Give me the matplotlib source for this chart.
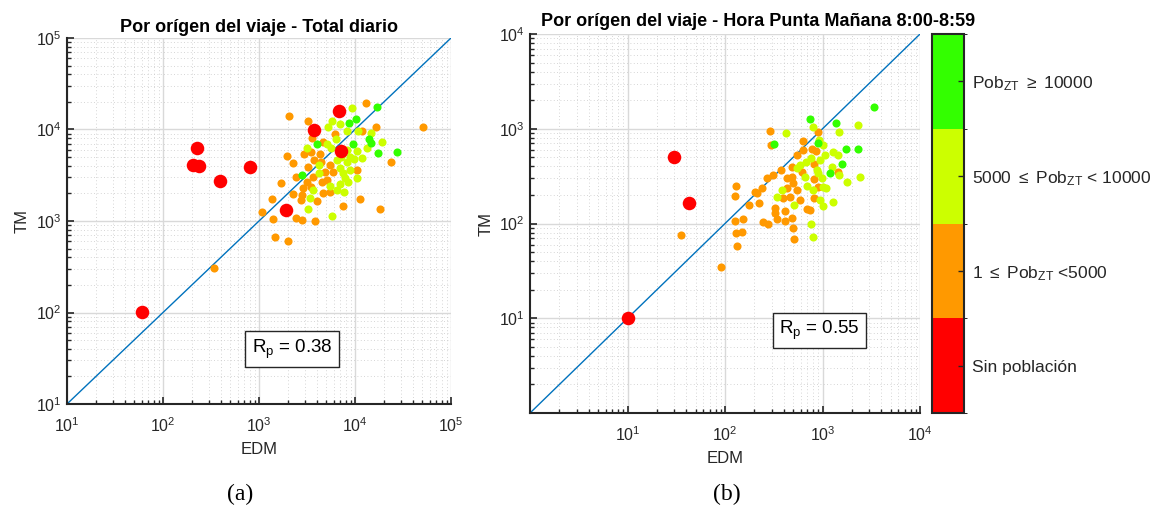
"""Scatter EDM vs TM by origin zone, coloured by zone population."""
import matplotlib
matplotlib.use('Agg')
import matplotlib.pyplot as plt
from matplotlib.colors import ListedColormap, BoundaryNorm
from matplotlib.cm import ScalarMappable
import numpy as np

plt.rcParams.update({
    'font.family': ['Liberation Sans', 'DejaVu Sans'],
    'mathtext.fontset': 'custom',
    'mathtext.rm': 'Liberation Sans',
    'mathtext.it': 'Liberation Sans:italic',
    'font.size': 10,
})

# ── colours per population class ──
C_RED = '#FF0000'
C_ORA = '#FF9900'
C_YEL = '#CCFF00'
C_GRN = '#33FF00'
C_LINE = '#0072BD'

# =============================================
# (a) Total diario
# =============================================
a_red_edm = [61, 224, 204, 237, 392, 811, 1920, 6870, 3720, 7100]
a_red_tm = [102, 6320, 4090, 3960, 2740, 3860, 1310, 15800, 9790, 5820]

a_ora_edm = [13030, 2050, 3240, 16410, 51500, 11720, 3560, 6190, 4680, 2940, 1940, 3510,
             4320, 23500, 2280, 3740, 4390, 5500, 3260, 10400, 2430, 4870, 5070, 3680,
             5940, 1680, 3130, 4500, 5500, 2900, 3480, 2280, 2780, 4680, 1380, 2720,
             3990, 11270, 7550, 18200, 1080, 1410, 2430, 2830, 3800, 1470, 2000, 340]
a_ora_tm = [19500, 14050, 12490, 10740, 10740, 9640, 8150, 8860, 7360, 5350, 5180, 5730,
            5350, 4450, 4340, 4640, 4450, 4090, 3930, 3580, 3050, 3400, 2810, 3050,
            3460, 2620, 2640, 2690, 2090, 2280, 2350, 1970, 1920, 2000, 1740, 1690,
            1650, 1750, 1460, 1340, 1260, 1050, 1090, 1030, 1010, 662, 610, 304]

a_yel_edm = [9230, 5800, 5270, 6980, 8190, 10840, 14690, 6340, 18970, 5070, 3130, 5620,
             8190, 10570, 13210, 9840, 11910, 6440, 7140, 8190, 4180, 6980, 4220, 7550,
             8870, 10400, 5500, 6980, 8510, 6440, 3620, 7740, 3400, 3260, 5800, 8870, 7870]
a_yel_tm = [17030, 12380, 10740, 11380, 9640, 9640, 9080, 7800, 7360, 6890, 6330, 6220,
            5970, 5820, 6220, 4760, 4840, 4640, 5050, 4450, 4090, 3830, 3320, 3320,
            3610, 2980, 2430, 2520, 2640, 2180, 2180, 2060, 1770, 1340, 1120, 5050, 2920]

a_grn_edm = [16800, 8590, 10160, 4050, 13870, 14690, 9460, 17380, 27160, 2800]
a_grn_tm = [17780, 11880, 12910, 6950, 7800, 7060, 6890, 5490, 5620, 3180]

# =============================================
# (b) Hora Punta Mañana
# =============================================
b_red_edm = [30, 43, 10]
b_red_tm = [500, 163, 10]

b_ora_edm = [35, 90, 130, 127, 177, 126, 153, 130, 148, 133, 289, 296, 510, 502, 635, 1429,
             247, 278, 339, 412, 482, 328, 328, 412, 214, 239, 221, 205, 267, 313, 378, 428,
             483, 543, 636, 780, 824, 818, 611, 502, 396, 464, 543, 588, 688, 745, 818, 906,
             483, 428, 857, 891]
b_ora_tm = [76, 35, 251, 195, 157, 107, 111, 80, 82, 58, 940, 674, 69, 90, 748, 346,
            105, 100, 111, 107, 113, 145, 130, 135, 208, 239, 163, 215, 300, 325, 367, 300,
            398, 529, 597, 607, 425, 292, 352, 266, 184, 192, 226, 177, 144, 139, 184, 245,
            312, 235, 588, 931]

b_yel_edm = [419, 792, 2296, 1477, 2427, 1782, 1271, 1019, 756, 792, 339, 384, 510, 543, 588,
             678, 688, 661, 871, 942, 1061, 1292, 1452, 1242, 979, 906, 1019, 1086, 942, 805,
             912, 1002, 756, 1489]
b_yel_tm = [896, 1035, 1096, 916, 307, 274, 170, 154, 98, 72, 192, 226, 157, 382, 414,
            450, 249, 307, 367, 468, 529, 573, 529, 398, 300, 338, 245, 235, 177, 226,
            760, 674, 488, 325]

b_grn_edm = [3370, 316, 750, 1387, 1742, 2296, 1183, 1595, 906]
b_grn_tm = [1680, 691, 1256, 1159, 611, 611, 338, 425, 702]

cb_labels = ['Sin población', r'1 $\leq$ Pob$_{\rm ZT}$ <5000',
             r'5000 $\leq$ Pob$_{\rm ZT}$ < 10000', r'Pob$_{\rm ZT}$ $\geq$ 10000']

S_SMALL = 34
S_BIG = 95


def style_axes(ax, lo, hi, ticks):
    ax.set_xscale('log')
    ax.set_yscale('log')
    ax.set_xlim(lo, hi)
    ax.set_ylim(lo, hi)
    ax.set_xticks(ticks)
    ax.set_yticks(ticks)
    ax.grid(True, which='major', color='#D9D9D9', lw=1.0, ls='-')
    ax.grid(True, which='minor', color='#C8C8C8', lw=0.6, ls=(0, (1, 3)))
    ax.set_axisbelow(True)
    for s in ['top', 'right']:
        ax.spines[s].set_visible(False)
    for s in ['left', 'bottom']:
        ax.spines[s].set_linewidth(1.5)
        ax.spines[s].set_color('#262626')
    ax.tick_params(which='both', direction='in', colors='#262626', labelsize=11.5)
    ax.tick_params(which='major', length=5, width=1.2)
    ax.tick_params(which='minor', length=3, width=1.0)
    ax.tick_params(axis='x', which='major', pad=9)
    ax.tick_params(axis='y', which='major', pad=4)
    ax.set_xlabel('EDM', fontsize=12, color='#262626', labelpad=5)
    ax.set_ylabel('TM', fontsize=12, color='#262626')
    ax.plot([lo, hi], [lo, hi], color=C_LINE, lw=1.0, zorder=2)


fig = plt.figure(figsize=(11.57, 5.24), dpi=100)

# -------- panel (a)
ax1 = fig.add_axes([0.0579, 0.229, 0.3319, 0.6985])
style_axes(ax1, 10, 1e5, [10, 1e2, 1e3, 1e4, 1e5])
ax1.scatter(a_ora_edm, a_ora_tm, s=S_SMALL, color=C_ORA, lw=0, zorder=3)
ax1.scatter(a_yel_edm, a_yel_tm, s=S_SMALL, color=C_YEL, lw=0, zorder=3)
ax1.scatter(a_grn_edm, a_grn_tm, s=S_SMALL, color=C_GRN, lw=0, zorder=3)
ax1.scatter(a_red_edm, a_red_tm, s=S_BIG, color=C_RED, lw=0, zorder=4)
ax1.set_title('Por orígen del viaje - Total diario', fontsize=13, fontweight='bold', pad=4)
ax1.text(0.586, 0.15, r'R$_{\rm p}$ = 0.38', transform=ax1.transAxes, fontsize=13.5,
         ha='center', va='center', zorder=5,
         bbox=dict(boxstyle='square,pad=0.33', fc='white', ec='#262626', lw=1.0))

# -------- panel (b)
ax2 = fig.add_axes([0.4581, 0.2118, 0.3371, 0.7233])
style_axes(ax2, 1, 1e4, [10, 1e2, 1e3, 1e4])
ax2.scatter(b_ora_edm, b_ora_tm, s=S_SMALL, color=C_ORA, lw=0, zorder=3)
ax2.scatter(b_yel_edm, b_yel_tm, s=S_SMALL, color=C_YEL, lw=0, zorder=3)
ax2.scatter(b_grn_edm, b_grn_tm, s=S_SMALL, color=C_GRN, lw=0, zorder=3)
ax2.scatter(b_red_edm, b_red_tm, s=S_BIG, color=C_RED, lw=0, zorder=4)
ax2.set_title('Por orígen del viaje - Hora Punta Mañana 8:00-8:59', fontsize=13,
              fontweight='bold', pad=6, x=0.585)
ax2.text(0.741, 0.218, r'R$_{\rm p}$ = 0.55', transform=ax2.transAxes, fontsize=13.5,
         ha='center', va='center', zorder=5,
         bbox=dict(boxstyle='square,pad=0.33', fc='white', ec='#262626', lw=1.0))

# -------- colorbar
cax = fig.add_axes([0.8055, 0.2118, 0.0277, 0.7233])
cmap = ListedColormap([C_RED, C_ORA, C_YEL, C_GRN])
norm = BoundaryNorm([0, 1, 2, 3, 4], cmap.N)
cb = fig.colorbar(ScalarMappable(norm=norm, cmap=cmap), cax=cax, ticks=[0.5, 1.5, 2.5, 3.5])
cb.set_ticklabels(cb_labels)
cb.outline.set_linewidth(1.5)
cb.outline.set_edgecolor('#262626')
cax.tick_params(direction='in', length=4, width=1.0, labelsize=12.5, colors='#262626', pad=6)

# -------- sub-figure captions
fig.text(0.2075, 0.045, '(a)', fontsize=17, family=['Liberation Serif'], ha='center')
fig.text(0.628, 0.045, '(b)', fontsize=17, family=['Liberation Serif'], ha='center')

plt.savefig('out.png', dpi=100)
plt.close()
